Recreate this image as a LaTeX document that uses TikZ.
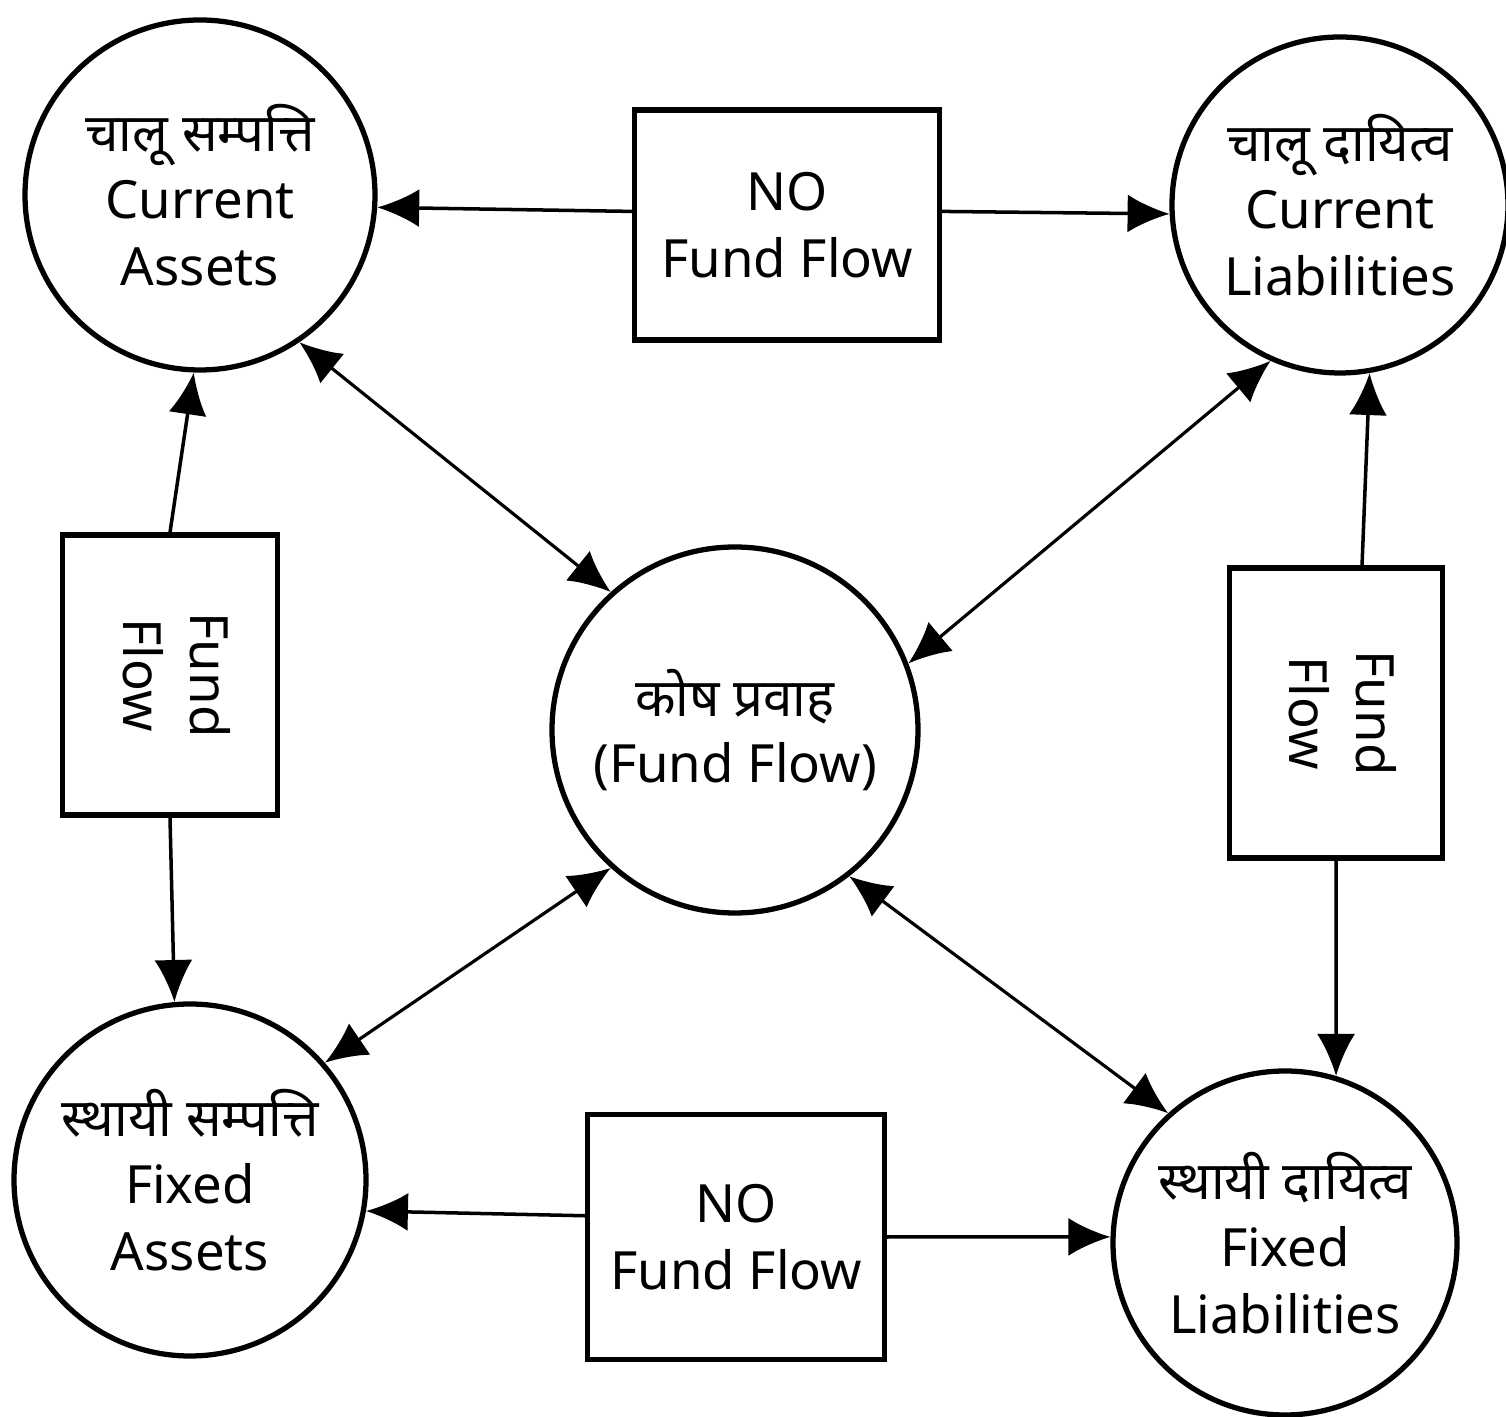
\documentclass[tikz,border=0pt]{standalone}
\usepackage{fontspec}
\setmainfont{Noto Sans}
\newfontfamily\hindi[Script=Devanagari]{Noto Sans}
\usepackage{tikz}
\usetikzlibrary{arrows.meta}
\newcommand{\txtsize}{\fontsize{15}{19}\selectfont}

\begin{document}
\begin{tikzpicture}[
        acc/.style={draw, circle, line width=1.5pt, inner sep=0pt, align=center, font=\txtsize},
        flowbox/.style={draw, rectangle, line width=1.5pt, align=center, font=\txtsize},
        link/.style={line width=1pt, -{Latex[length=0.42cm, width=0.38cm]}},
        both/.style={line width=0.9pt, {Latex[length=0.42cm, width=0.38cm]}-{Latex[length=0.42cm, width=0.38cm]}}
    ]
        \useasboundingbox (0,0) rectangle (15.06,14.17);

        \node[acc, minimum size=3.5cm] (CA) at (2.00,12.22) {{\hindi चालू सम्पत्ति}\\Current\\Assets};
        \node[acc, minimum size=3.36cm] (CL) at (13.40,12.12) {{\hindi चालू दायित्व}\\Current\\Liabilities};
        \node[acc, minimum size=3.66cm] (F) at (7.35,6.87) {{\hindi कोष प्रवाह}\\(Fund Flow)};
        \node[acc, minimum size=3.52cm] (FA) at (1.90,2.37) {{\hindi स्थायी सम्पत्ति}\\Fixed\\Assets};
        \node[acc, minimum size=3.44cm] (FL) at (12.85,1.74) {{\hindi स्थायी दायित्व}\\Fixed\\Liabilities};

        \node[flowbox, minimum width=3.05cm, minimum height=2.3cm] (NT) at (7.87,11.92) {NO\\Fund Flow};
        \node[flowbox, minimum width=2.97cm, minimum height=2.45cm] (NB) at (7.36,1.80) {NO\\Fund Flow};
        \node[flowbox, minimum width=2.15cm, minimum height=2.8cm] (BL) at (1.70,7.42) {\rotatebox{-90}{\begin{tabular}{c}Fund\\Flow\end{tabular}}};
        \node[flowbox, minimum width=2.13cm, minimum height=2.9cm] (BR) at (13.36,7.04) {\rotatebox{-90}{\begin{tabular}{c}Fund\\Flow\end{tabular}}};

        % no fund flow
        \draw[link] (NT.175) -- (CA.-4);
        \draw[link] (NT.5) -- (CL.183);
        \draw[link] (NB.172) -- (FA.-10);
        \draw[link] (NB.east) -- (FL.178);

        % fund flow
        \draw[link] (BL.north) -- (CA.-92);
        \draw[link] (BL.south) -- (FA.95);
        \draw[link] (BR.80) -- (CL.-80);
        \draw[link] (BR.south) -- (FL.73);

        % to and from the centre
        \draw[both] (F.132) -- (CA.-56);
        \draw[both] (F.21) -- (CL.246);
        \draw[both] (F.228) -- (FA.41);
        \draw[both] (F.308) -- (FL.132);
    \end{tikzpicture}
\end{document}
